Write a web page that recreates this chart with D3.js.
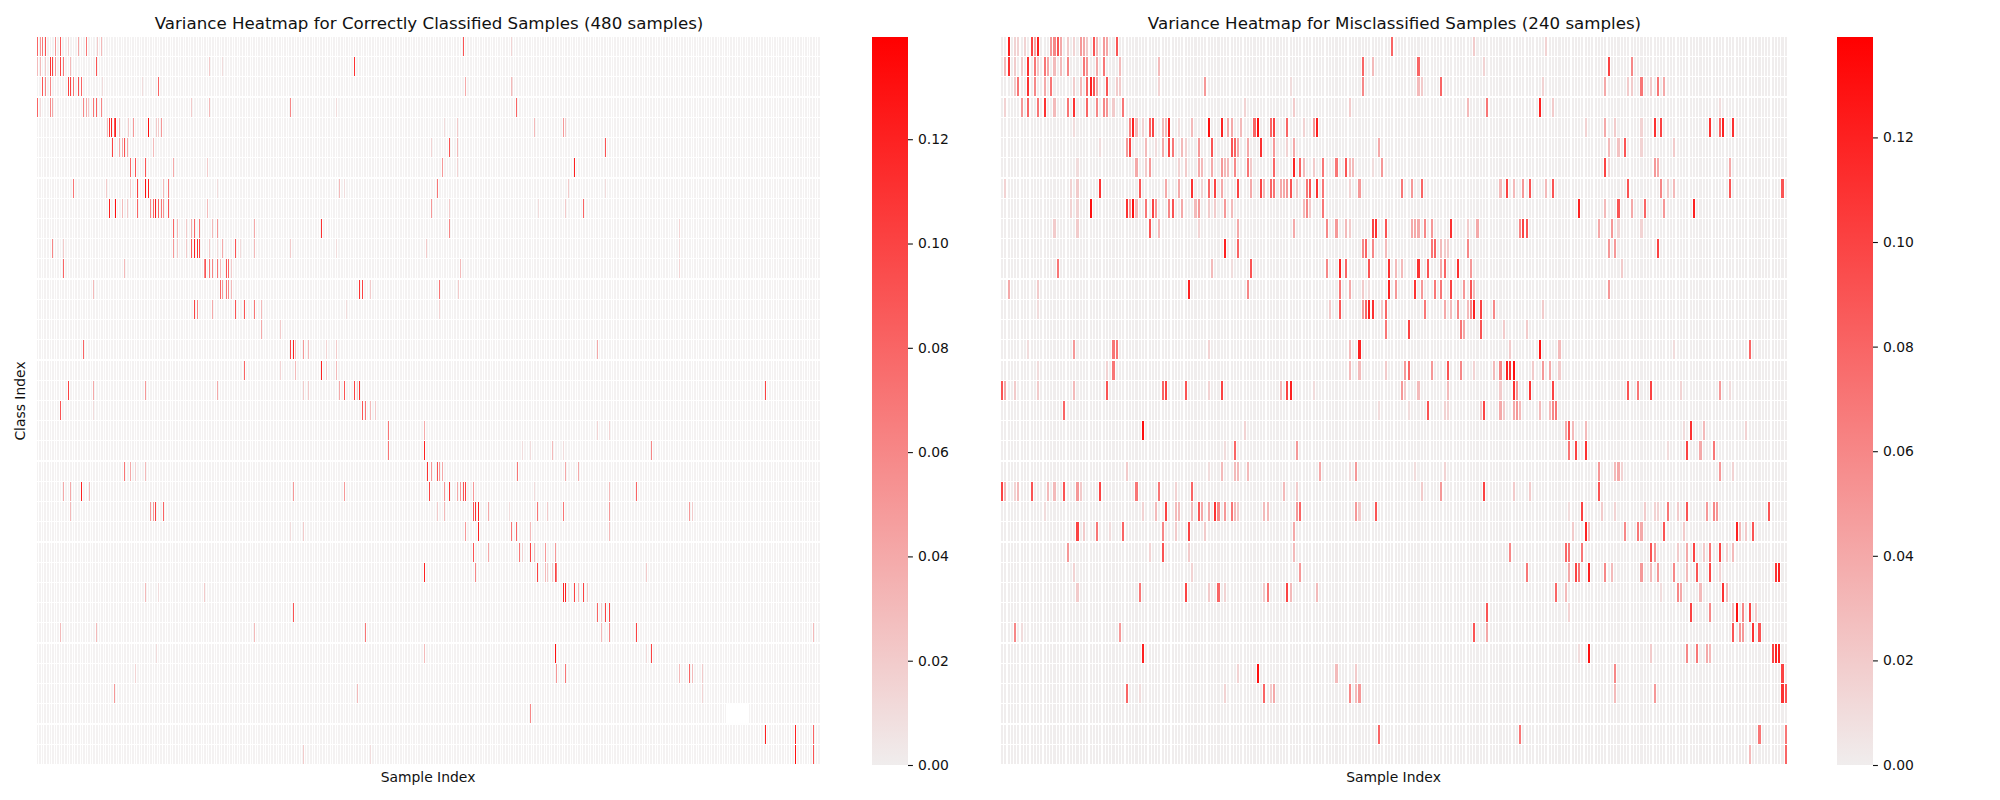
<!DOCTYPE html>
<html>
<head>
<meta charset="utf-8">
<script src="https://cdnjs.cloudflare.com/ajax/libs/d3/7.8.5/d3.min.js"></script>
<style>
  body { margin: 0; background: white; }
  text { font-family: "DejaVu Sans", sans-serif; fill: #111; }
</style>
</head>
<body>
<div id="chart"></div>
<script>
// each row is one class, only the cells that stand out from the base are listed: [sample, variance]
var correctRows = [
  [[0,.08],[2,.05],[3,.07],[5,.09],[11,.05],[14,.09],[19,.015],[25,.04],[30,.07],[37,.02],[39,.03],[261,.09],[290,.015]],
  [[0,.03],[2,.03],[5,.02],[8,.11],[9,.1],[11,.05],[14,.1],[16,.07],[20,.03],[36,.09],[105,.02],[113,.01],[194,.11]],
  [[3,.09],[5,.06],[8,.06],[19,.1],[20,.1],[22,.07],[25,.09],[27,.08],[40,.01],[64,.01],[74,.08],[262,.04],[290,.03],[291,.01]],
  [[0,.08],[2,.01],[8,.06],[9,.04],[28,.06],[30,.04],[31,.02],[34,.07],[36,.08],[39,.06],[94,.02],[105,.03],[155,.06],[183,.01],[293,.08]],
  [[43,.03],[44,.11],[45,.12],[47,.09],[48,.12],[50,.03],[56,.02],[59,.05],[68,.13],[73,.02],[74,.02],[76,.05],[249,.01],[257,.02],[304,.03],[322,.05],[323,.02]],
  [[46,.1],[50,.04],[52,.04],[53,.09],[55,.04],[71,.03],[241,.015],[252,.09],[257,.03],[348,.09]],
  [[57,.08],[60,.09],[66,.09],[83,.04],[104,.02],[248,.05],[257,.015],[329,.12]],
  [[22,.07],[42,.02],[57,.02],[61,.1],[66,.13],[68,.12],[77,.03],[80,.07],[110,.01],[185,.03],[188,.01],[245,.07],[325,.02],[348,.01]],
  [[44,.12],[48,.13],[52,.03],[55,.02],[61,.08],[69,.06],[71,.08],[72,.12],[74,.08],[76,.07],[77,.05],[80,.09],[104,.03],[241,.05],[252,.02],[307,.01],[323,.02],[334,.08]],
  [[83,.08],[86,.03],[91,.02],[94,.04],[96,.08],[99,.07],[107,.03],[110,.05],[133,.04],[174,.11],[252,.06],[393,.015]],
  [[9,.06],[16,.02],[83,.05],[86,.02],[91,.02],[94,.09],[96,.12],[98,.11],[99,.1],[105,.02],[110,.01],[113,.04],[121,.09],[124,.01],[133,.03],[155,.02],[183,.01],[238,.02],[393,.01]],
  [[16,.08],[53,.03],[102,.06],[103,.09],[105,.07],[107,.06],[110,.07],[112,.03],[116,.09],[117,.08],[119,.02],[259,.03],[393,.015]],
  [[34,.03],[112,.08],[113,.05],[116,.07],[117,.06],[119,.03],[197,.11],[199,.1],[204,.02],[246,.07],[258,.02]],
  [[96,.1],[98,.06],[107,.04],[121,.09],[127,.09],[133,.07],[137,.03],[189,.01],[246,.015]],
  [[137,.04],[149,.02]],
  [[28,.08],[155,.1],[157,.12],[158,.03],[163,.05],[166,.03],[177,.015],[183,.02],[343,.04]],
  [[127,.08],[149,.015],[158,.03],[174,.12],[177,.02],[183,.03]],
  [[19,.1],[34,.04],[66,.05],[110,.04],[163,.02],[166,.02],[185,.04],[188,.09],[194,.1],[196,.02],[197,.11],[446,.1]],
  [[14,.09],[34,.01],[199,.09],[201,.07],[204,.03],[207,.02]],
  [[215,.07],[237,.04],[343,.015],[350,.015]],
  [[215,.07],[237,.12],[297,.01],[302,.01],[315,.03],[322,.01],[376,.06]],
  [[53,.07],[57,.04],[60,.015],[66,.03],[239,.11],[241,.05],[245,.09],[246,.05],[248,.04],[294,.07],[323,.04],[331,.04]],
  [[16,.04],[20,.04],[27,.12],[32,.03],[157,.05],[188,.05],[240,.1],[249,.05],[252,.11],[257,.04],[259,.05],[261,.09],[262,.1],[267,.05],[304,.01],[350,.03],[367,.08]],
  [[20,.03],[69,.05],[71,.05],[72,.1],[77,.08],[245,.02],[249,.03],[267,.09],[268,.11],[270,.12],[276,.04],[289,.01],[306,.07],[312,.02],[322,.07],[350,.05],[399,.05],[401,.02]],
  [[155,.01],[163,.02],[262,.05],[270,.12],[290,.07],[293,.08],[302,.03],[350,.03]],
  [[267,.09],[276,.04],[295,.07],[297,.015],[302,.1],[304,.03],[311,.05],[317,.05]],
  [[237,.12],[268,.06],[306,.1],[311,.03],[312,.02],[315,.02],[317,.1],[318,.07],[373,.02]],
  [[66,.03],[74,.01],[102,.02],[322,.12],[323,.12],[325,.01],[329,.1],[331,.03],[334,.1],[337,.02]],
  [[157,.09],[343,.08],[345,.02],[348,.1],[350,.1]],
  [[14,.03],[36,.03],[133,.03],[201,.07],[345,.03],[350,.06],[367,.1],[475,.03]],
  [[73,.01],[237,.03],[317,.13],[373,.01],[376,.1]],
  [[60,.015],[318,.05],[323,.07],[393,.03],[399,.08],[401,.03],[407,.02]],
  [[47,.05],[196,.03],[407,.015]],
  [[302,.06]],
  [[446,.12],[464,.12],[475,.08]],
  [[163,.02],[204,.01],[464,.13],[475,.09]]
];

var misclassifiedRows = [
  [[2,.12],[4,.015],[5,.015],[7,.015],[9,.1],[10,.04],[11,.12],[15,.05],[16,.06],[17,.09],[18,.04],[20,.02],[22,.015],[24,.05],[25,.04],[26,.02],[28,.09],[29,.03],[31,.05],[32,.04],[35,.09],[119,.08],[144,.02],[166,.015]],
  [[1,.03],[2,.11],[4,.02],[6,.02],[8,.11],[10,.07],[11,.02],[13,.07],[14,.04],[16,.03],[18,.03],[20,.06],[25,.07],[26,.05],[29,.04],[31,.07],[36,.03],[48,.03],[110,.08],[113,.03],[127,.08],[147,.015],[185,.1],[192,.06]],
  [[4,.02],[5,.07],[8,.11],[10,.06],[13,.04],[15,.07],[22,.02],[24,.03],[26,.08],[27,.12],[28,.09],[29,.04],[32,.09],[35,.02],[36,.02],[48,.015],[62,.05],[88,.01],[110,.06],[127,.03],[128,.02],[134,.08],[165,.015],[184,.04],[191,.02],[192,.02],[195,.07],[198,.02],[200,.07],[202,.04]],
  [[1,.015],[6,.05],[8,.08],[11,.07],[13,.11],[16,.03],[20,.07],[22,.11],[26,.08],[29,.06],[31,.06],[32,.05],[34,.02],[37,.07],[74,.015],[89,.02],[106,.02],[142,.03],[148,.07],[164,.12],[168,.02],[219,.01]],
  [[22,.01],[39,.06],[40,.12],[41,.03],[43,.015],[45,.08],[46,.1],[49,.03],[50,.03],[51,.12],[54,.01],[58,.03],[63,.13],[67,.12],[69,.04],[70,.04],[73,.03],[77,.08],[78,.13],[82,.08],[83,.1],[87,.08],[92,.015],[95,.05],[96,.12],[178,.015],[184,.04],[187,.02],[195,.015],[199,.11],[201,.1],[216,.11],[219,.08],[220,.12],[223,.11]],
  [[30,.01],[38,.05],[39,.1],[44,.03],[47,.01],[49,.04],[51,.1],[52,.07],[55,.03],[56,.015],[60,.05],[64,.09],[70,.09],[71,.08],[72,.04],[75,.04],[79,.11],[83,.05],[87,.015],[89,.04],[115,.04],[185,.03],[188,.025],[190,.09],[195,.015],[205,.02]],
  [[23,.01],[41,.04],[44,.02],[45,.05],[54,.015],[56,.02],[60,.04],[61,.03],[64,.04],[67,.05],[68,.03],[69,.03],[71,.06],[75,.07],[76,.02],[83,.08],[89,.12],[91,.08],[92,.03],[95,.02],[98,.07],[102,.07],[105,.09],[106,.03],[107,.03],[113,.01],[116,.05],[184,.1],[185,.015],[199,.05],[200,.04],[222,.04]],
  [[1,.015],[21,.015],[23,.02],[30,.11],[42,.09],[50,.04],[54,.04],[58,.11],[61,.015],[63,.08],[65,.1],[67,.04],[72,.1],[76,.04],[79,.1],[80,.03],[82,.08],[83,.07],[85,.04],[86,.04],[87,.05],[88,.09],[90,.02],[93,.07],[94,.09],[96,.11],[98,.07],[106,.015],[109,.05],[122,.07],[125,.05],[128,.08],[152,.03],[154,.1],[156,.03],[159,.05],[161,.09],[166,.03],[168,.09],[191,.09],[201,.06],[203,.02],[205,.03],[222,.09],[238,.09]],
  [[21,.015],[23,.015],[27,.13],[38,.11],[39,.05],[40,.13],[41,.03],[44,.07],[46,.1],[47,.05],[51,.06],[52,.09],[55,.04],[59,.03],[60,.05],[63,.02],[65,.02],[68,.05],[70,.03],[92,.03],[93,.06],[94,.02],[98,.07],[176,.12],[184,.03],[188,.09],[192,.04],[196,.08],[202,.05],[211,.12]],
  [[16,.02],[23,.02],[45,.09],[48,.03],[60,.015],[72,.04],[89,.04],[99,.06],[102,.05],[105,.03],[106,.02],[113,.1],[114,.11],[117,.09],[125,.04],[126,.04],[127,.04],[129,.06],[131,.05],[137,.11],[142,.02],[145,.04],[158,.06],[159,.1],[160,.09],[182,.04],[186,.05],[188,.015],[195,.015]],
  [[68,.12],[72,.08],[110,.06],[111,.08],[113,.06],[117,.03],[131,.07],[132,.08],[134,.03],[135,.02],[136,.02],[142,.06],[185,.05],[187,.05],[200,.1]],
  [[17,.07],[64,.03],[70,.01],[76,.09],[99,.06],[103,.12],[105,.08],[112,.09],[118,.11],[120,.03],[122,.03],[127,.11],[130,.09],[134,.04],[135,.08],[139,.11],[143,.05],[189,.02]],
  [[2,.04],[11,.02],[57,.12],[75,.06],[103,.07],[106,.04],[110,.02],[112,.01],[118,.12],[120,.05],[126,.11],[128,.05],[132,.07],[134,.07],[137,.1],[141,.05],[143,.09],[144,.03],[185,.05]],
  [[11,.01],[100,.02],[103,.09],[110,.05],[111,.08],[112,.12],[113,.11],[116,.02],[117,.08],[129,.07],[135,.04],[137,.03],[139,.06],[142,.03],[143,.06],[144,.12],[146,.1],[150,.06],[165,.02]],
  [[117,.07],[124,.1],[140,.07],[141,.04],[146,.09],[153,.02],[160,.02]],
  [[8,.01],[22,.05],[34,.07],[35,.07],[63,.015],[106,.03],[109,.12],[155,.02],[164,.13],[170,.03],[205,.01],[228,.08]],
  [[11,.01],[32,.015],[34,.07],[106,.03],[109,.03],[117,.02],[123,.05],[124,.08],[131,.05],[136,.09],[140,.06],[144,.015],[150,.03],[152,.06],[154,.12],[155,.11],[156,.13],[162,.02],[165,.05],[167,.04],[170,.02]],
  [[0,.09],[1,.04],[4,.02],[11,.02],[22,.03],[32,.09],[49,.08],[50,.1],[56,.09],[63,.015],[67,.1],[85,.03],[87,.1],[88,.12],[95,.01],[122,.05],[123,.02],[127,.03],[136,.03],[152,.02],[156,.11],[157,.05],[161,.11],[168,.1],[191,.09],[194,.07],[198,.1],[207,.015],[219,.05],[222,.01]],
  [[19,.08],[115,.01],[124,.01],[130,.09],[135,.015],[136,.015],[146,.02],[147,.1],[152,.04],[153,.02],[156,.04],[157,.05],[158,.03],[164,.03],[167,.03],[168,.06],[169,.07]],
  [[43,.13],[74,.015],[172,.04],[173,.09],[174,.03],[178,.03],[208,.01],[210,.11],[214,.03],[227,.015]],
  [[68,.01],[71,.08],[90,.05],[173,.07],[175,.1],[178,.11],[203,.01],[209,.1],[213,.04],[217,.07]],
  [[38,.02],[63,.01],[67,.03],[71,.03],[72,.03],[75,.03],[97,.04],[106,.01],[108,.05],[126,.01],[135,.015],[182,.05],[187,.03],[188,.04],[189,.015],[219,.05],[223,.015]],
  [[0,.1],[1,.03],[4,.015],[5,.03],[9,.09],[14,.03],[16,.03],[19,.09],[23,.05],[24,.02],[30,.1],[41,.07],[48,.07],[53,.015],[58,.08],[86,.03],[90,.02],[128,.02],[134,.05],[147,.1],[156,.02],[161,.02],[182,.09]],
  [[13,.01],[43,.015],[47,.03],[50,.1],[53,.03],[54,.03],[58,.03],[60,.09],[61,.04],[63,.04],[65,.11],[66,.06],[68,.05],[70,.07],[71,.03],[72,.02],[80,.03],[81,.03],[90,.05],[91,.08],[108,.05],[109,.02],[114,.09],[173,.01],[177,.1],[183,.02],[187,.015],[196,.02],[199,.015],[200,.015],[203,.07],[206,.02],[209,.09],[215,.05],[217,.06],[218,.05],[234,.09]],
  [[23,.1],[25,.02],[29,.07],[33,.01],[37,.08],[49,.06],[53,.02],[57,.1],[62,.02],[89,.04],[174,.02],[178,.12],[179,.03],[190,.06],[194,.07],[195,.04],[202,.09],[208,.02],[224,.12],[225,.03],[227,.02],[229,.09]],
  [[20,.05],[45,.015],[49,.09],[57,.02],[89,.03],[155,.06],[172,.08],[173,.07],[177,.07],[198,.09],[199,.05],[206,.02],[209,.04],[211,.1],[214,.02],[216,.07],[219,.1],[221,.015],[223,.03]],
  [[22,.015],[58,.015],[91,.05],[160,.07],[173,.04],[175,.1],[176,.07],[179,.12],[184,.06],[186,.03],[195,.05],[198,.03],[200,.05],[205,.06],[209,.03],[212,.09],[216,.1],[219,.015],[236,.11],[237,.12]],
  [[23,.02],[42,.07],[56,.1],[63,.02],[66,.08],[68,.015],[80,.02],[81,.07],[87,.1],[88,.03],[96,.03],[169,.08],[172,.03],[201,.01],[206,.06],[207,.04],[213,.03],[220,.11],[221,.03]],
  [[148,.09],[173,.015],[210,.1],[216,.06],[223,.03],[224,.13],[226,.06],[228,.1],[230,.02]],
  [[4,.06],[6,.01],[36,.05],[144,.09],[148,.04],[223,.09],[225,.05],[226,.05],[229,.11],[231,.09]],
  [[43,.12],[176,.01],[179,.13],[198,.02],[209,.06],[212,.07],[215,.04],[216,.03],[235,.1],[236,.12],[237,.12]],
  [[72,.015],[78,.13],[102,.03],[108,.02],[187,.06],[238,.1]],
  [[38,.08],[42,.01],[68,.015],[80,.08],[82,.02],[83,.04],[106,.06],[108,.03],[109,.05],[187,.03],[199,.05],[238,.11],[239,.09]],
  [],
  [[115,.08],[158,.07],[231,.07],[239,.07]],
  [[228,.03],[239,.08]]
];

var baseVariance = 0;
var blankCorrect = {row: 33, from: 422, to: 435}; // the patch in the left panel that has no cells
var colorTicks = [0, 0.02, 0.04, 0.06, 0.08, 0.10, 0.12];
var vmaxCorrect = 0.1396;
var vmaxMisclassified = 0.1392;

var width = 2000;
var height = 800;
var plotTop = 37;
var plotBottom = 765;
var barWidth = 36;
var rowGap = 1.2;

var svg = d3.select("#chart")
  .append("svg")
    .attr("width", width)
    .attr("height", height);

// turn the sparse rows into one cell per sample
function build_cells(rows, nSamples, blank){
  var cells = [];
  rows.forEach(function(row, r){
    var found = new Map(row);
    d3.range(nSamples).forEach(function(s){
      if (blank && blank.row == r && s >= blank.from && s <= blank.to) return;
      cells.push({row: r, sample: s, value: found.has(s) ? found.get(s) : baseVariance});
    });
  });
  return cells;
}

function color_scale(vmax){
  return d3.scaleLinear()
    .domain([0, vmax])
    .range(["#f0eded", "#ff0000"]);
}

// baseOpacity: the narrow cells of the left panel look paler in the reference
function draw_heatmap(rows, nSamples, left, plotWidth, cellWidth, baseOpacity, vmax, title, blank){
  var color = color_scale(vmax);

  var x = d3.scaleBand()
    .domain(d3.range(nSamples))
    .range([left, left + plotWidth]);

  var y = d3.scaleBand()
    .domain(d3.range(rows.length))
    .range([plotTop, plotBottom]);

  svg.append("g")
    .attr("shape-rendering", "crispEdges")
    .selectAll("rect")
    .data(build_cells(rows, nSamples, blank))
    .enter().append("rect")
    .attr("x", d => x(d.sample))
    .attr("y", d => y(d.row))
    .attr("width", cellWidth)
    .attr("height", y.bandwidth() - rowGap)
    .style("fill", d => color(d.value))
    .style("opacity", d => d.value == baseVariance ? baseOpacity : 1);

  svg.append("text")
    .attr("x", left + plotWidth / 2)
    .attr("y", 29)
    .attr("text-anchor", "middle")
    .style("font-size", "16.67px")
    .text(title);

  svg.append("text")
    .attr("x", left + plotWidth / 2 - 1)
    .attr("y", 782)
    .attr("text-anchor", "middle")
    .style("font-size", "13.9px")
    .text("Sample Index");
}

function draw_colorbar(left, id, vmax){
  var color = color_scale(vmax);

  var scale = d3.scaleLinear()
    .domain([0, vmax])
    .range([plotBottom, plotTop]);

  var gradient = svg.append("defs").append("linearGradient")
    .attr("id", id)
    .attr("x1", 0).attr("y1", 1)
    .attr("x2", 0).attr("y2", 0);
  gradient.append("stop").attr("offset", "0%").attr("stop-color", color(0));
  gradient.append("stop").attr("offset", "100%").attr("stop-color", color(vmax));

  svg.append("rect")
    .attr("x", left)
    .attr("y", plotTop)
    .attr("width", barWidth)
    .attr("height", plotBottom - plotTop)
    .style("fill", "url(#" + id + ")");

  var axis = svg.append("g")
    .attr("transform", "translate(" + (left + barWidth) + ",0)")
    .call(d3.axisRight(scale)
      .tickValues(colorTicks)
      .tickFormat(d3.format(".2f"))
      .tickSize(4.9)
      .tickPadding(5));

  axis.select(".domain").remove();
  axis.selectAll("line").attr("stroke", "#111").attr("stroke-width", 1.1);
  axis.selectAll("text").style("font-size", "13.9px").style("font-family", "DejaVu Sans");
}

draw_heatmap(correctRows, 480, 37, 784, 1, 0.7, vmaxCorrect, "Variance Heatmap for Correctly Classified Samples (480 samples)", blankCorrect);
draw_heatmap(misclassifiedRows, 240, 1001, 787, 2.08, 1, vmaxMisclassified, "Variance Heatmap for Misclassified Samples (240 samples)");
draw_colorbar(872, "bar1", vmaxCorrect);
draw_colorbar(1837, "bar2", vmaxMisclassified);

svg.append("text")
  .attr("transform", "translate(25,401) rotate(-90)")
  .attr("text-anchor", "middle")
  .style("font-size", "13.9px")
  .text("Class Index");
</script>
</body>
</html>
